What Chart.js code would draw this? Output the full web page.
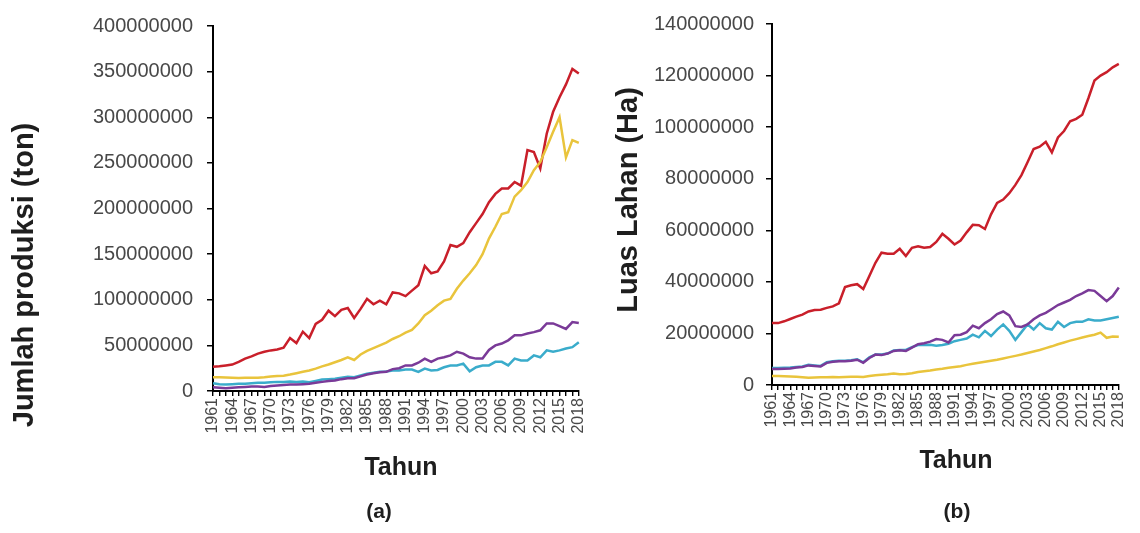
<!DOCTYPE html>
<html>
<head>
<meta charset="utf-8">
<script src="https://cdn.jsdelivr.net/npm/chart.js@4.4.1/dist/chart.umd.min.js"></script>
<style>
  body { margin: 0; background: #fff; }
  #wrap { position: relative; width: 1140px; height: 533px; }
  #chartA { position: absolute; left: 0; top: 0; }
  #chartB { position: absolute; left: 600px; top: 0; }
</style>
</head>
<body>
<div id="wrap">
  <canvas id="chartA" width="600" height="533"></canvas>
  <canvas id="chartB" width="540" height="533"></canvas>
</div>
<script>
const years = ['1961','1962','1963','1964','1965','1966','1967','1968','1969','1970',
  '1971','1972','1973','1974','1975','1976','1977','1978','1979','1980',
  '1981','1982','1983','1984','1985','1986','1987','1988','1989','1990',
  '1991','1992','1993','1994','1995','1996','1997','1998','1999','2000',
  '2001','2002','2003','2004','2005','2006','2007','2008','2009','2010',
  '2011','2012','2013','2014','2015','2016','2017','2018'];

// (a) produksi, juta ton
const redA = [26.5, 27, 28, 29, 32, 35.5, 38, 41, 43, 44.5,
  45.5, 47.5, 58, 52.5, 65, 58, 73.5, 78, 88, 82,
  89, 91, 80, 90, 101, 95, 99, 95, 108, 107,
  104, 110, 116, 137, 129, 131, 142, 160, 158, 162,
  174, 184, 194, 207, 216, 222, 222, 229, 225, 264,
  262, 244, 282, 306, 322, 336, 353, 348];
const yellowA = [15, 15, 14.8, 14.5, 14.3, 14.5, 14.5, 14.5, 15, 15.8,
  16.5, 16.8, 18, 19.5, 21, 22.5, 24.5, 27, 29, 31.5,
  34, 37, 34, 40, 44, 47, 50, 53, 57, 60,
  64, 67, 74, 83, 88, 94, 99, 101, 112, 121,
  129, 138, 150, 167, 180, 194, 196, 213, 220, 229,
  242, 251, 267, 284, 300, 256, 275, 272];
const purpleA = [4, 3.5, 3, 3.5, 4, 4.5, 5, 5, 4.5, 5.5,
  6, 6.5, 7, 7, 7.5, 8, 9, 10, 11, 11.5,
  13, 14, 14, 16, 18, 19.5, 20.5, 21, 24, 25,
  28, 28, 31, 35.5, 32, 35.5, 37, 39, 43, 41,
  37, 35.5, 35.5, 45, 50, 52, 55.5, 61, 61, 63,
  64.5, 66.5, 74, 74, 71, 68, 75.5, 74.5];
const cyanA = [8.5, 7.5, 7, 7.5, 8, 8, 8.5, 9, 9, 9.5,
  10, 10, 10.5, 10, 10.5, 9.5, 11, 12.5, 13, 13.5,
  14.5, 15.5, 15, 17, 19, 20, 21, 21.5, 22.5, 22.5,
  23.5, 23.5, 21, 24.5, 22.5, 23, 26, 28, 28, 30,
  21.5, 26, 28, 28, 32, 32, 28, 35.5, 33.5, 33.5,
  39, 37, 44.5, 43, 44.5, 46.5, 48, 53.5];

// (b) luas lahan, juta ha
const redB = [24, 24, 24.7, 25.6, 26.5, 27.3, 28.5, 29.1, 29.2, 29.9,
  30.5, 31.7, 38, 38.7, 39.1, 37.2, 42.3, 47.4, 51.3, 50.9,
  50.9, 52.8, 50, 53.2, 53.8, 53.2, 53.5, 55.5, 58.6, 56.7,
  54.5, 56, 59.2, 62.1, 62, 60.5, 66.2, 70.6, 71.9, 74.4,
  77.6, 81.4, 86.4, 91.5, 92.4, 94.3, 90.2, 96, 98.5, 102.3,
  103.2, 104.8, 111.2, 118.1, 120, 121.3, 123.2, 124.5];
const yellowB = [3.5, 3.5, 3.4, 3.3, 3.2, 3, 2.8, 2.9, 3, 3,
  3.1, 3, 3.1, 3.2, 3.2, 3.1, 3.5, 3.8, 4, 4.2,
  4.5, 4.2, 4.3, 4.6, 5, 5.3, 5.6, 6, 6.3, 6.7,
  7, 7.3, 7.8, 8.2, 8.6, 9, 9.4, 9.8, 10.3, 10.8,
  11.3, 11.8, 12.4, 13, 13.6, 14.3, 15, 15.8, 16.5, 17.2,
  17.8, 18.4, 19, 19.5, 20.3, 18.3, 18.8, 18.7];
const purpleB = [6.2, 6.2, 6.3, 6.4, 6.8, 7, 7.6, 7.4, 7.2, 8.6,
  9, 9.2, 9.2, 9.4, 9.8, 8.6, 10.5, 11.8, 11.6, 12.2,
  13.2, 13.5, 13.2, 14.5, 15.8, 16.2, 16.8, 17.8, 17.5, 16.5,
  19.3, 19.5, 20.5, 23, 22, 24, 25.5, 27.5, 28.5, 27,
  22.8, 22.5, 23.5, 25.5, 27, 28, 29.5, 31, 32, 33,
  34.5, 35.5, 36.8, 36.5, 34.5, 32.5, 34.5, 37.8];
const cyanB = [6.6, 6.6, 6.7, 6.8, 7, 7.2, 7.8, 7.6, 7.4, 8.8,
  9.2, 9.4, 9.4, 9.6, 10, 8.8, 10.7, 11.8, 11.8, 12.2,
  13.4, 13.6, 13.6, 14.7, 15.5, 15.5, 15.6, 15.2, 15.5, 16,
  17, 17.5, 18, 19.5, 18.5, 21, 19, 21.5, 23.5, 21,
  17.5, 20.5, 23.5, 21.5, 24, 22, 21.5, 24.5, 22.5, 24,
  24.5, 24.5, 25.5, 25, 25, 25.5, 26, 26.5];

const MILLION = 1000000;
const FONT = '"Liberation Sans", Arial, sans-serif';
const colors = { red: '#c91f2a', yellow: '#e9c43c', purple: '#7a3a98', cyan: '#3aaccb' };

function line(values, color) {
  return {
    data: values.map(v => v * MILLION),
    borderColor: color,
    borderWidth: 2.5,
    pointRadius: 0,
    tension: 0,
    fill: false
  };
}

// axis titles and panel letter
const titles = {
  id: 'titles',
  afterDraw(chart, args, o) {
    const ctx = chart.ctx;
    ctx.save();
    ctx.fillStyle = '#1e1e1e';
    ctx.textAlign = 'center';
    ctx.textBaseline = 'middle';
    ctx.font = 'bold 29px ' + FONT;
    ctx.save();
    ctx.translate(o.yx, o.yy);
    ctx.rotate(-Math.PI / 2);
    ctx.fillText(o.y, 0, 0);
    ctx.restore();
    ctx.font = 'bold 25px ' + FONT;
    ctx.fillText('Tahun', o.xx, o.xy);
    ctx.font = 'bold 21px ' + FONT;
    ctx.fillText(o.tag, o.tx, o.ty);
    ctx.restore();
  }
};

function makeChart(id, sets, max, step, area, t) {
  return new Chart(document.getElementById(id), {
    type: 'line',
    data: { labels: years, datasets: sets },
    options: {
      responsive: false,
      animation: false,
      layout: { padding: { left: 0, right: area.right, top: area.top, bottom: 0 } },
      plugins: { legend: { display: false }, tooltip: { enabled: false }, titles: t },
      scales: {
        x: {
          offset: false,
          afterFit: s => { s.height = area.xh; },
          grid: { drawOnChartArea: false, tickLength: 5, color: '#000', lineWidth: 1.4 },
          border: { color: '#000', width: 2 },
          ticks: {
            autoSkip: false, minRotation: 90, maxRotation: 90, padding: 2,
            color: '#484848', font: { family: FONT, size: 16 },
            callback: function (v, i) { return i % 3 === 0 ? this.getLabelForValue(v) : ''; }
          }
        },
        y: {
          min: 0, max: max,
          afterFit: s => { s.width = area.left; },
          grid: { drawOnChartArea: false, tickLength: 6, color: '#000', lineWidth: 1.5 },
          border: { color: '#000', width: 2 },
          ticks: {
            stepSize: step, padding: area.pad,
            color: '#484848', font: { family: FONT, size: 20 },
            callback: v => String(v)
          }
        }
      }
    },
    plugins: [titles]
  });
}

makeChart('chartA',
  [line(purpleA, colors.purple), line(cyanA, colors.cyan), line(yellowA, colors.yellow), line(redA, colors.red)],
  400 * MILLION, 50 * MILLION,
  { left: 213, right: 15, top: 26, xh: 142, pad: 14 },
  { y: 'Jumlah produksi (ton)', yx: 25, yy: 275, xx: 401, xy: 468, tag: '(a)', tx: 379, ty: 512 });

makeChart('chartB',
  [line(yellowB, colors.yellow), line(purpleB, colors.purple), line(cyanB, colors.cyan), line(redB, colors.red)],
  140 * MILLION, 20 * MILLION,
  { left: 172, right: 5, top: 17, xh: 148, pad: 12 },
  { y: 'Luas Lahan (Ha)', yx: 29, yy: 200, xx: 356, xy: 461, tag: '(b)', tx: 357, ty: 512 });
</script>
</body>
</html>
